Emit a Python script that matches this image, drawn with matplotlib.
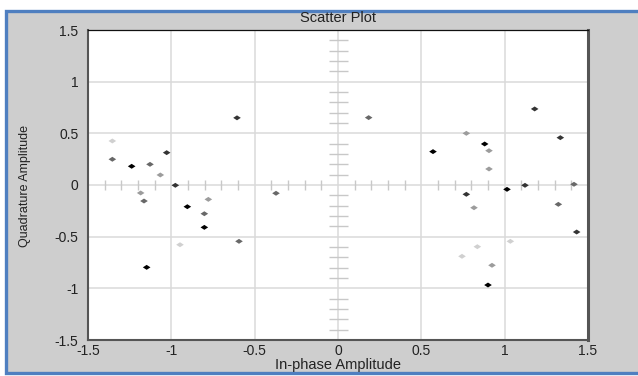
import numpy as np
import matplotlib
matplotlib.use("Agg")
import matplotlib.pyplot as plt
from matplotlib.patches import Rectangle
from matplotlib.ticker import FuncFormatter, MultipleLocator

plt.rcParams['axes.unicode_minus'] = False
plt.rcParams['font.family'] = ['Liberation Sans', 'DejaVu Sans']

# constellation points (in-phase, quadrature) and how faded each one is (0 = newest/black)
i_vals = [-1.354, -1.354, -1.238, -1.128, -1.028, -1.066, -0.976, -1.184, -1.164,
          -0.778, -0.904, -0.802, -0.802, -0.948, -0.594, -0.606, -1.148, -0.372,
          0.184, 0.770, 0.880, 0.906, 0.906, 0.570, 1.180, 1.334, 1.014, 1.122,
          1.416, 0.770, 0.816, 1.322, 1.432, 1.034, 0.836, 0.744, 0.924, 0.900]
q_vals = [0.426, 0.249, 0.181, 0.200, 0.313, 0.097, -0.003, -0.077, -0.155,
          -0.139, -0.210, -0.278, -0.410, -0.578, -0.545, 0.650, -0.797, -0.080,
          0.652, 0.500, 0.397, 0.332, 0.155, 0.323, 0.736, 0.458, -0.042, -0.003,
          0.007, -0.090, -0.220, -0.187, -0.455, -0.545, -0.597, -0.690, -0.777, -0.968]
age = [4, 2, 0, 2, 1, 3, 1, 3, 2,
       3, 0, 2, 0, 4, 2, 1, 0, 2,
       2, 3, 0, 3, 3, 0, 1, 1, 0, 1,
       2, 1, 3, 2, 1, 4, 4, 4, 3, 0]

W, H = 638, 376
fig = plt.figure(figsize=(W / 100, H / 100), dpi=100, facecolor='white')

# grey panel with blue frame
fig.patches.append(Rectangle((5.5 / W, 1 - 372.5 / H), 700 / W, 362 / H,
                             transform=fig.transFigure, facecolor='#cecece',
                             edgecolor='#4f7fc0', linewidth=2.4, zorder=-10))

ax = fig.add_axes([88 / W, 1 - 340 / H, 500 / W, 310 / H])
ax.set_zorder(1)
ax.set_facecolor('white')
ax.set_xlim(-1.5, 1.5)
ax.set_ylim(-1.5, 1.5)
ax.xaxis.set_major_locator(MultipleLocator(0.5))
ax.yaxis.set_major_locator(MultipleLocator(0.5))
fmt = FuncFormatter(lambda v, p: '%g' % v)
ax.xaxis.set_major_formatter(fmt)
ax.yaxis.set_major_formatter(fmt)
ax.tick_params(length=0, labelsize=10, colors='#222222')
ax.tick_params(axis='y', pad=7)
ax.tick_params(axis='x', pad=3)
ax.grid(True, color='#dadada', linewidth=1.1, zorder=0)
ax.set_axisbelow(True)

for s in ['left', 'bottom']:
    ax.spines[s].set_color('#555555')
    ax.spines[s].set_linewidth(1.5)
ax.spines['right'].set_color('#555555')
ax.spines['right'].set_linewidth(2.2)
ax.spines['top'].set_color('#111111')
ax.spines['top'].set_linewidth(0.9)

# small tick marks along the centre cross
minor = np.round(np.arange(-1.4, 1.41, 0.1), 2)
minor = minor[np.abs(minor * 2 - np.round(minor * 2)) > 1e-6]
ax.vlines(minor, -0.05, 0.05, color='#c8c8c8', linewidth=1, zorder=1)
ax.hlines(minor, -0.057, 0.057, color='#c8c8c8', linewidth=1, zorder=1)

diamond = [(-1, 0), (0, 0.65), (1, 0), (0, -0.65), (-1, 0)]
ax.scatter(i_vals, q_vals, c=age, cmap='gray', vmin=0, vmax=4.9,
           marker=diamond, s=30, linewidths=0, zorder=3)

fig.text(338 / W, 1 - 18 / H, 'Scatter Plot', ha='center', va='center',
         fontsize=10.5, color='#222222')
fig.text(338 / W, 1 - 365 / H, 'In-phase Amplitude', ha='center', va='center',
         fontsize=10.5, color='#222222')
fig.text(25 / W, 1 - 186 / H, 'Quadrature Amplitude', ha='center', va='center',
         rotation=90, fontsize=9, color='#222222',
         family=['Liberation Sans Narrow', 'Liberation Sans', 'DejaVu Sans'])

fig.savefig('out.png', dpi=100, facecolor=fig.get_facecolor())
